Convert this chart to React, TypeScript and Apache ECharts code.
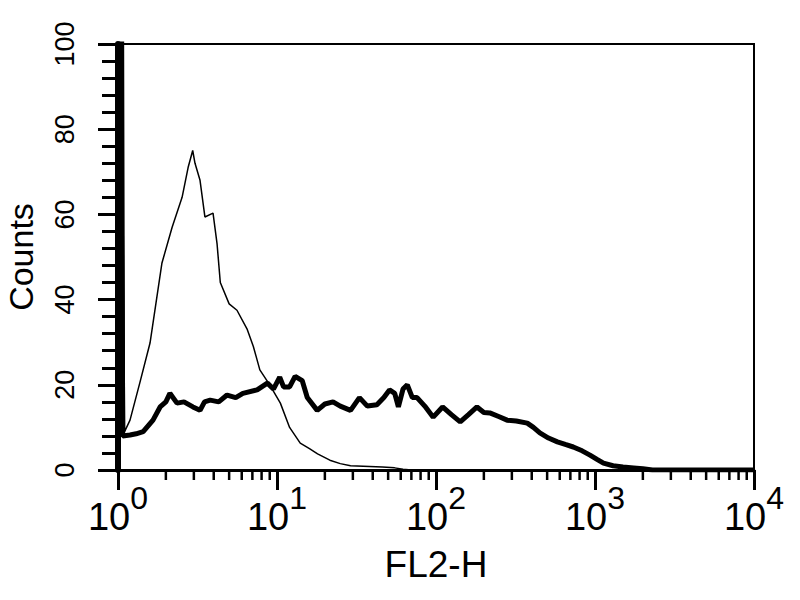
import React, { useEffect, useRef } from 'react';
import * as echarts from 'echarts';

// FL2-H histogram, [channel value, counts]
const stainedCounts: [number, number][] = [
  [1, 130], [1.05, 130], [1.07, 8], [1.19, 8.2], [1.3, 8.5], [1.44, 9], [1.66, 11.7], [1.84, 14.8], [2.0, 16],
  [2.12, 18], [2.35, 15.7], [2.6, 16], [2.96, 14.8], [3.28, 14], [3.5, 16], [3.8, 16.4], [4.3, 16],
  [4.85, 17.6], [5.5, 17], [6.1, 18], [7.5, 18.8], [8.7, 20.4], [9.5, 19], [10.4, 21.8], [11, 19.5],
  [12, 19.5], [13, 22], [14.4, 21], [15.5, 17], [17.9, 14], [20, 15.5], [22.5, 16], [25, 15],
  [29, 14], [33, 17], [37, 15], [42.5, 15.3], [47, 17], [51, 18.8], [55, 18], [58, 14.8],
  [62, 19], [66, 20], [71, 17], [76, 17], [85, 15], [96, 12.4], [110, 14.8], [125, 13],
  [142, 11.3], [160, 13], [181, 14.8], [200, 13.5], [218, 13.4], [250, 12.5], [280, 11.7], [320, 11.5],
  [375, 11], [410, 10], [450, 8.7], [510, 7.5], [580, 6.6], [650, 6], [730, 5.4], [830, 4.5],
  [930, 3.5], [1030, 2.5], [1130, 1.6], [1300, 1], [1500, 0.7], [1750, 0.5], [2000, 0.3], [2300, 0],
  [10000, 0],
];

const controlCounts: [number, number][] = [
  [1, 55], [1.08, 55], [1.1, 9], [1.19, 11.7], [1.37, 20.4], [1.59, 29.8], [1.89, 48.6], [2.19, 57], [2.53, 64],
  [2.76, 71], [2.95, 75], [3.05, 72], [3.28, 68], [3.52, 59.4], [3.96, 60.3], [4.2, 53], [4.4, 44],
  [5.0, 39], [5.6, 37.5], [6.5, 33], [7.1, 29], [7.8, 23.5], [9.0, 20], [10.5, 15.7], [12, 10],
  [14, 6.3], [16, 5], [18, 3.8], [21.5, 2.3], [25, 1.5], [29, 1], [46, 0.7], [55, 0.5],
  [62, 0.2], [70, 0], [10000, 0],
];

const minorTickValues = [
  2, 3, 4, 5, 6, 7, 8, 9,
  20, 30, 40, 50, 60, 70, 80, 90,
  200, 300, 400, 500, 600, 700, 800, 900,
  2000, 3000, 4000, 5000, 6000, 7000, 8000, 9000,
];

const FONT = 'Liberation Sans, Arial, sans-serif';

export default function App() {
  const ref = useRef<HTMLDivElement>(null);
  useEffect(() => {
    if (!ref.current) return;
    const chart = echarts.init(ref.current, undefined, { renderer: 'svg' });
    chart.setOption({
      animation: false,
      backgroundColor: '#fff',
      grid: {
        left: 118, right: 46, top: 44, bottom: 130,
        containLabel: false, outerBoundsMode: 'none',
        show: true, borderColor: '#000', borderWidth: 2,
      },
      xAxis: {
        type: 'log',
        logBase: 10,
        min: 1,
        max: 10000,
        name: 'FL2-H',
        nameLocation: 'middle',
        nameGap: 76,
        nameMoveOverlap: false,
        nameTextStyle: { fontFamily: FONT, fontSize: 37, color: '#000' },
        axisLine: { lineStyle: { color: '#000', width: 3 } },
        axisTick: { length: 20, lineStyle: { color: '#000', width: 3 } },
        splitLine: { show: false },
        axisLabel: {
          margin: 28,
          formatter: (v: number) => `{b|10}{s|${Math.round(Math.log10(v))}}`,
          rich: {
            b: { fontFamily: FONT, fontSize: 38, color: '#000', verticalAlign: 'bottom', lineHeight: 38 },
            s: { fontFamily: FONT, fontSize: 32, color: '#000', verticalAlign: 'bottom', lineHeight: 32, padding: [0, 0, 22, 0] },
          },
        },
      },
      yAxis: {
        type: 'value',
        min: 0,
        max: 100,
        interval: 20,
        name: 'Counts',
        nameLocation: 'middle',
        nameGap: 80,
        nameMoveOverlap: false,
        nameRotate: 90,
        nameTextStyle: { fontFamily: FONT, fontSize: 34, color: '#000' },
        axisLine: { show: true, lineStyle: { color: '#000', width: 6 } },
        axisTick: { show: true, length: 20, lineStyle: { color: '#000', width: 3 } },
        minorTick: { show: true, splitNumber: 5, length: 16, lineStyle: { color: '#000', width: 3 } },
        splitLine: { show: false },
        axisLabel: { rotate: 90, margin: 40, fontFamily: FONT, fontSize: 27, color: '#000' },
      },
      series: [
        {
          type: 'line',
          data: controlCounts,
          symbol: 'none',
          lineStyle: { color: '#000', width: 1.5 },
          z: 3,
        },
        {
          type: 'line',
          data: stainedCounts,
          symbol: 'none',
          lineStyle: { color: '#000', width: 5 },
          z: 4,
        },
        {
          type: 'custom',
          data: minorTickValues.map((v) => [v, 0]),
          clip: false,
          silent: true,
          renderItem: (_params: any, api: any) => {
            const p = api.coord([api.value(0), 0]);
            return {
              type: 'line',
              shape: { x1: p[0], y1: p[1], x2: p[0], y2: p[1] + 10 },
              style: { stroke: '#000', lineWidth: 2.5 },
            };
          },
          z: 5,
        },
      ],
    });
    return () => chart.dispose();
  }, []);
  return <div ref={ref} style={{ position: 'fixed', left: 0, top: 0, width: 800, height: 600, background: '#fff' }} />;
}
